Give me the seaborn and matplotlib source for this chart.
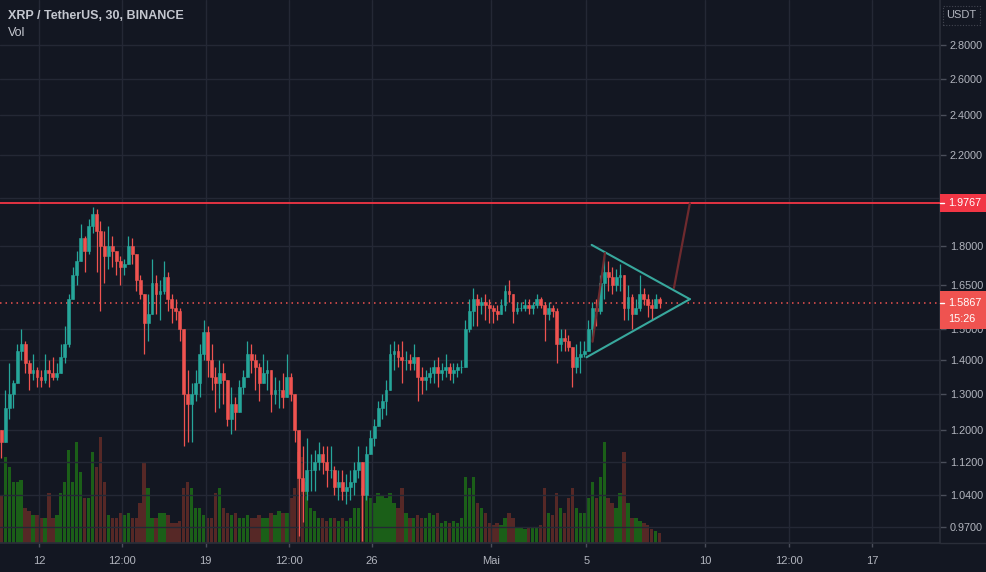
import numpy as np
import pandas as pd
import matplotlib
matplotlib.use("Agg")
import matplotlib.pyplot as plt
import matplotlib.dates as mdates
from matplotlib.patches import Rectangle
from matplotlib.ticker import NullLocator, FixedLocator, FixedFormatter
import seaborn as sns

# ---------------- data (4h candles) ----------------
start_time = "2021-04-10 08:00"
close = [1.17, 1.26, 1.30, 1.33, 1.43, 1.45, 1.39, 1.36, 1.37, 1.35,
         1.34, 1.37, 1.36, 1.35, 1.36, 1.41, 1.45, 1.60, 1.69, 1.74,
         1.83, 1.78, 1.88, 1.93, 1.86, 1.80, 1.76, 1.80, 1.78, 1.74,
         1.72, 1.73, 1.80, 1.77, 1.67, 1.62, 1.52, 1.55, 1.66, 1.62,
         1.63, 1.68, 1.60, 1.57, 1.56, 1.50, 1.30, 1.27, 1.30, 1.33,
         1.42, 1.49, 1.40, 1.35, 1.33, 1.36, 1.34, 1.23, 1.27, 1.25,
         1.32, 1.35, 1.42, 1.40, 1.38, 1.33, 1.36, 1.37, 1.30, 1.31,
         1.31, 1.29, 1.35, 1.30, 1.20, 1.08, 1.05, 1.10, 1.10, 1.12,
         1.14, 1.12, 1.10, 1.10, 1.06, 1.07, 1.05, 1.06, 1.07, 1.10,
         1.12, 1.04, 1.14, 1.18, 1.21, 1.26, 1.28, 1.31, 1.42, 1.43,
         1.41, 1.40, 1.40, 1.39, 1.41, 1.35, 1.34, 1.35, 1.36, 1.38,
         1.36, 1.37, 1.38, 1.36, 1.37, 1.38, 1.38, 1.50, 1.56, 1.60,
         1.58, 1.59, 1.58, 1.57, 1.56, 1.55, 1.58, 1.63, 1.62, 1.56,
         1.57, 1.57, 1.58, 1.57, 1.58, 1.60, 1.58, 1.55, 1.57, 1.56,
         1.45, 1.47, 1.46, 1.44, 1.38, 1.41, 1.42, 1.43, 1.50, 1.57,
         1.56, 1.66, 1.70, 1.68, 1.65, 1.68, 1.69, 1.57, 1.61, 1.55,
         1.57, 1.62, 1.60, 1.58, 1.57, 1.60, 1.5867]
high = [1.19, 1.31, 1.39, 1.34, 1.45, 1.50, 1.46, 1.40, 1.42, 1.38,
        1.37, 1.42, 1.40, 1.41, 1.39, 1.45, 1.51, 1.62, 1.72, 1.78,
        1.89, 1.84, 1.91, 1.96, 1.95, 1.90, 1.86, 1.88, 1.84, 1.77,
        1.76, 1.75, 1.84, 1.83, 1.74, 1.69, 1.61, 1.62, 1.75, 1.69,
        1.67, 1.74, 1.70, 1.62, 1.60, 1.57, 1.50, 1.37, 1.33, 1.37,
        1.45, 1.53, 1.51, 1.45, 1.38, 1.40, 1.39, 1.33, 1.32, 1.29,
        1.34, 1.37, 1.46, 1.45, 1.42, 1.39, 1.42, 1.40, 1.36, 1.35,
        1.34, 1.36, 1.42, 1.36, 1.30, 1.20, 1.16, 1.18, 1.14, 1.15,
        1.17, 1.16, 1.16, 1.16, 1.11, 1.10, 1.10, 1.09, 1.10, 1.12,
        1.16, 1.12, 1.16, 1.20, 1.23, 1.28, 1.30, 1.34, 1.45, 1.46,
        1.45, 1.46, 1.43, 1.42, 1.45, 1.41, 1.38, 1.37, 1.38, 1.40,
        1.41, 1.39, 1.42, 1.39, 1.39, 1.39, 1.40, 1.53, 1.60, 1.64,
        1.62, 1.61, 1.62, 1.60, 1.58, 1.58, 1.60, 1.65, 1.67, 1.62,
        1.59, 1.59, 1.60, 1.60, 1.59, 1.62, 1.61, 1.59, 1.59, 1.58,
        1.57, 1.50, 1.50, 1.48, 1.44, 1.45, 1.46, 1.46, 1.53, 1.59,
        1.60, 1.69, 1.76, 1.74, 1.72, 1.71, 1.73, 1.69, 1.65, 1.62,
        1.60, 1.69, 1.64, 1.62, 1.60, 1.62, 1.61]
low = [1.13, 1.17, 1.23, 1.26, 1.33, 1.40, 1.36, 1.31, 1.34, 1.32,
       1.32, 1.33, 1.32, 1.34, 1.34, 1.36, 1.39, 1.44, 1.60, 1.65,
       1.74, 1.70, 1.77, 1.85, 1.70, 1.56, 1.66, 1.71, 1.72, 1.69,
       1.65, 1.69, 1.73, 1.73, 1.63, 1.60, 1.42, 1.46, 1.55, 1.55,
       1.53, 1.62, 1.56, 1.52, 1.53, 1.46, 1.16, 1.17, 1.17, 1.28,
       1.29, 1.40, 1.35, 1.31, 1.25, 1.26, 1.27, 1.21, 1.19, 1.20,
       1.25, 1.30, 1.35, 1.36, 1.31, 1.28, 1.33, 1.31, 1.25, 1.27,
       1.26, 1.26, 1.29, 1.28, 1.17, 0.95, 0.98, 1.03, 1.05, 1.05,
       1.10, 1.09, 1.06, 1.08, 1.04, 1.03, 1.03, 1.02, 1.03, 1.04,
       1.08, 0.94, 1.03, 1.14, 1.16, 1.21, 1.23, 1.24, 1.31, 1.37,
       1.38, 1.33, 1.37, 1.37, 1.37, 1.28, 1.30, 1.31, 1.33, 1.33,
       1.32, 1.34, 1.35, 1.34, 1.33, 1.35, 1.36, 1.38, 1.49, 1.51,
       1.51, 1.55, 1.53, 1.52, 1.52, 1.53, 1.55, 1.56, 1.59, 1.52,
       1.55, 1.56, 1.56, 1.55, 1.55, 1.57, 1.57, 1.46, 1.53, 1.54,
       1.39, 1.43, 1.43, 1.43, 1.32, 1.36, 1.36, 1.41, 1.43, 1.46,
       1.51, 1.55, 1.60, 1.63, 1.62, 1.63, 1.63, 1.53, 1.53, 1.50,
       1.55, 1.56, 1.58, 1.54, 1.53, 1.57, 1.57]
first_open = 1.20
volume = [48, 85, 75, 60, 60, 62, 35, 32, 28, 28,
          25, 25, 50, 25, 28, 50, 60, 92, 60, 100,
          70, 45, 45, 90, 75, 105, 60, 28, 25, 25,
          30, 28, 30, 25, 25, 40, 80, 55, 25, 25,
          30, 30, 28, 20, 20, 22, 55, 60, 55, 35,
          35, 28, 25, 25, 50, 55, 35, 30, 28, 30,
          25, 25, 28, 25, 25, 28, 25, 25, 30, 28,
          32, 30, 30, 45, 55, 90, 85, 60, 35, 32,
          25, 25, 22, 25, 25, 22, 25, 22, 25, 35,
          35, 55, 50, 45, 40, 50, 48, 45, 50, 40,
          35, 55, 30, 25, 25, 28, 25, 25, 30, 28,
          30, 20, 22, 20, 22, 20, 25, 65, 55, 65,
          40, 35, 30, 20, 18, 20, 18, 25, 30, 25,
          15, 15, 14, 15, 15, 16, 18, 55, 30, 28,
          50, 35, 30, 45, 55, 35, 30, 30, 45, 60,
          45, 65, 100, 45, 40, 35, 50, 90, 40, 25,
          25, 22, 20, 18, 14, 12, 10]

resistance = 1.9767
last_price = 1.5867
countdown = "15:26"

tri_upper_t = ["2021-05-05 05:20", "2021-05-09 08:24"]
tri_upper_p = [1.804, 1.601]
tri_lower_t = ["2021-05-05 00:15", "2021-05-09 08:24"]
tri_lower_p = [1.409, 1.601]
proj1_t = ["2021-05-05 06:15", "2021-05-05 18:45"]
proj1_p = [1.458, 1.772]
proj2_t = ["2021-05-08 16:20", "2021-05-09 08:24"]
proj2_p = [1.641, 1.9767]

y_ticks = [2.8, 2.6, 2.4, 2.2, 2.0, 1.8, 1.65, 1.5, 1.4, 1.3, 1.2, 1.12, 1.04, 0.97]
x_tick_times = ["2021-04-12 00:00", "2021-04-15 12:00", "2021-04-19 00:00", "2021-04-22 12:00",
                "2021-04-26 00:00", "2021-05-01 00:00", "2021-05-05 00:00", "2021-05-10 00:00",
                "2021-05-13 12:00", "2021-05-17 00:00"]
x_tick_labels = ["12", "12:00", "19", "12:00", "26", "Mai", "5", "10", "12:00", "17"]

# ---------------- styling ----------------
BG = "#131722"
GRID = "#242835"
SEP = "#2a2e39"
TXT = "#b2b5be"
UP = "#26a69a"
DOWN = "#ef5350"
VUP = "#1c6418"
VDOWN = "#5a2a27"

sns.set_theme(style="dark", rc={"axes.facecolor": BG, "figure.facecolor": BG,
                                "savefig.facecolor": BG, "text.color": TXT,
                                "xtick.color": TXT, "ytick.color": TXT})
plt.rcParams["font.family"] = ["Liberation Sans", "DejaVu Sans"]

W, H = 986, 572
fig = plt.figure(figsize=(W / 100, H / 100), dpi=100)
ax_v = fig.add_axes([0, 29 / H, 940 / W, 543 / H])
ax = ax_v.twinx()

def to_num(ts):
    return mdates.date2num(pd.to_datetime(ts, format="mixed").to_pydatetime())

times = pd.date_range(start_time, periods=len(close), freq="4h") + pd.Timedelta(hours=2)
x = mdates.date2num(times.to_pydatetime())
close_a = np.array(close)
open_a = np.array([first_open] + close[:-1])
high_a = np.maximum(np.array(high), np.maximum(open_a, close_a))
low_a = np.minimum(np.array(low), np.minimum(open_a, close_a))
up = close_a >= open_a
ccol = np.where(up, UP, DOWN)

# volume
ax_v.bar(x, volume, width=0.14, color=np.where(up, VUP, VDOWN), linewidth=0, alpha=0.95)
ax_v.set_ylim(0, max(volume) / 0.195)
ax_v.set_yticks([])
for s in ax_v.spines.values():
    s.set_visible(False)

# price
ax.set_yscale("log")
xmin = mdates.date2num(pd.Timestamp("2021-04-10 08:40"))
xmax = mdates.date2num(pd.Timestamp("2021-05-19 20:40"))

# grid
for yt in y_ticks:
    ax.axhline(yt, color=GRID, lw=1.0, zorder=0)
xt = to_num(x_tick_times)
for t in xt:
    ax.axvline(t, color=GRID, lw=1.0, zorder=0)

ax.vlines(x, low_a, high_a, colors=ccol, linewidth=0.9, zorder=3)
ax.bar(x, np.abs(close_a - open_a), bottom=np.minimum(open_a, close_a), width=0.12,
       color=ccol, edgecolor=ccol, linewidth=0.4, zorder=4)

# lines
ax.axhline(resistance, color="#f23645", lw=1.3, zorder=5)
ax.axhline(last_price, color=DOWN, lw=1.1, linestyle=(0, (1, 2.6)), zorder=2)

def seg(ts, ps, color, lw):
    d = pd.DataFrame({"t": to_num(ts), "p": ps})
    sns.lineplot(data=d, x="t", y="p", ax=ax, color=color, lw=lw, zorder=6,
                 estimator=None, sort=False, legend=False)

seg(tri_upper_t, tri_upper_p, "#38a89d", 1.5)
seg(tri_lower_t, tri_lower_p, "#38a89d", 1.5)
seg(proj1_t, proj1_p, "#6e2a2e", 1.6)
seg(proj2_t, proj2_p, "#6e2a2e", 1.6)
ax.set_xlabel("")
ax.set_ylabel("")
ax.set_ylim(0.9365, 3.091)
ax_v.set_xlim(xmin, xmax)
ax.set_xlim(xmin, xmax)

# axes ticks
ax.yaxis.set_major_locator(FixedLocator(y_ticks))
ax.yaxis.set_major_formatter(FixedFormatter([f"{v:.4f}" for v in y_ticks]))
ax.yaxis.set_minor_locator(NullLocator())
ax.tick_params(axis="y", which="major", right=True, left=False, labelright=True, labelleft=False,
               length=4, width=1, color="#4a4e5a", pad=3, labelsize=7.8, labelcolor=TXT)
for lab in ax.get_yticklabels():
    lab.set_horizontalalignment("left")

ax_v.set_xticks(xt)
ax_v.set_xticklabels(x_tick_labels)
ax_v.tick_params(axis="x", bottom=True, length=3, width=1, color="#4a4e5a", pad=6,
                 labelsize=8, labelcolor=TXT)
ax_v.grid(False)
ax.grid(False)
for s in ax.spines.values():
    s.set_visible(False)
ax.spines["right"].set_visible(True)
ax.spines["right"].set_color(SEP)
ax.spines["bottom"].set_visible(True)
ax.spines["bottom"].set_color(SEP)
fig.add_artist(plt.Line2D([940 / W, 1], [29 / H, 29 / H], color=SEP, lw=1, transform=fig.transFigure))

# right-side price labels
def ypx(price):
    return ax.transData.transform((xmin, price))[1]

yr = ypx(resistance)
fig.add_artist(Rectangle((940 / W, (yr - 9) / H), 46 / W, 18 / H, transform=fig.transFigure,
                         facecolor="#f23645", edgecolor="none", zorder=10))
fig.text(948 / W, yr / H, f"{resistance:.4f}", color="white", fontsize=7.8, va="center",
         ha="left", zorder=11)
fig.add_artist(plt.Line2D([940 / W, 944 / W], [yr / H, yr / H], color="white", lw=1, zorder=12))

yl = ypx(last_price)
fig.add_artist(Rectangle((940 / W, (yl - 26) / H), 46 / W, 38 / H, transform=fig.transFigure,
                         facecolor="#ef5350", edgecolor="none", zorder=10))
fig.text(948 / W, yl / H, f"{last_price:.4f}", color="white", fontsize=7.8, va="center",
         ha="left", zorder=11)
fig.text(948 / W, (yl - 16) / H, countdown, color="white", fontsize=7.8, va="center",
         ha="left", zorder=11)
fig.add_artist(plt.Line2D([940 / W, 944 / W], [yl / H, yl / H], color="white", lw=1, zorder=12))

# USDT box
fig.add_artist(Rectangle((943 / W, 1 - 25 / H), 37 / W, 19 / H, transform=fig.transFigure,
                         facecolor="none", edgecolor="#434651", lw=0.8, linestyle=(0, (1, 1.5)),
                         zorder=10))
fig.text(961.5 / W, 1 - 15.5 / H, "USDT", color=TXT, fontsize=8, ha="center", va="center")

# header
fig.text(8 / W, 1 - 16 / H, "XRP / TetherUS, 30, BINANCE", color="#c4c7cf", fontsize=9,
         fontweight="bold", va="center", ha="left")
fig.text(8 / W, 1 - 33 / H, "Vol", color="#c4c7cf", fontsize=9, va="center", ha="left")

fig.savefig("out.png", dpi=100, facecolor=BG)
